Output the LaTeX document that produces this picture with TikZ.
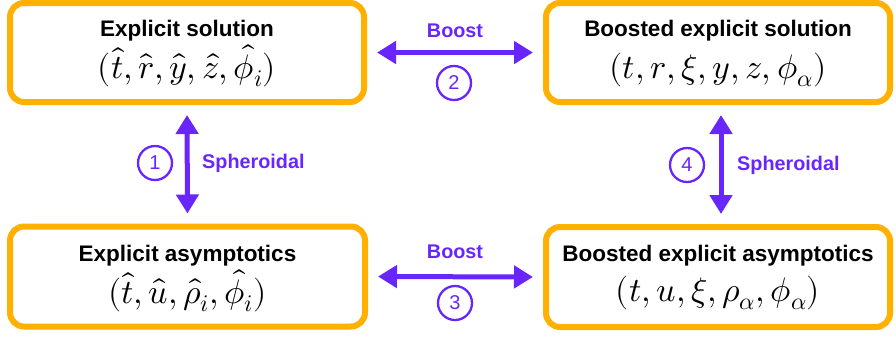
\documentclass[tikz,border=0pt]{standalone}
\usepackage{fontspec}
\usepackage{unicode-math}
\setmainfont{Liberation Sans}
\setmathfont{Latin Modern Math}
\usetikzlibrary{arrows.meta}
\definecolor{boxorange}{RGB}{255,176,0}
\definecolor{arrpurple}{RGB}{104,38,252}
\tikzset{
  bigbox/.style={draw=boxorange, line width=6pt, rounded corners=14pt, fill=white, inner sep=0pt},
  title/.style={anchor=base, font=\fontsize{22.5}{26}\selectfont\bfseries, text=black, inner sep=0pt},
  coords/.style={anchor=base, font=\fontsize{34}{40}\selectfont, inner sep=0pt},
  arr/.style={draw=arrpurple, line width=5pt, {Triangle[length=19pt,width=22pt]}-{Triangle[length=19pt,width=22pt]}, shorten <=10pt, shorten >=10pt},
  lbl/.style={font=\fontsize{19.8}{22}\selectfont\bfseries, text=arrpurple, inner sep=0pt},
  num/.style={circle, draw=arrpurple, line width=2.3pt, minimum size=34pt, inner sep=0pt, text=arrpurple, font=\fontsize{20}{22}\selectfont}
}
\begin{document}
\begin{tikzpicture}[x=1pt,y=-1pt]
\useasboundingbox (0,0) rectangle (896,338);
% boxes
\node[bigbox, minimum width=354pt, minimum height=99pt] (tl) at (187,52.5) {};
\node[bigbox, minimum width=344pt, minimum height=99pt] (tr) at (718,52.5) {};
\node[bigbox, minimum width=355pt, minimum height=100pt] (bl) at (187.5,276.5) {};
\node[bigbox, minimum width=344pt, minimum height=100pt] (br) at (718,277) {};
% texts
\node[title] (tlt) at (187,36) {Explicit solution};
\node[coords] (tlm) at (187,78) {$(\hat{t},\hat{r},\hat{y},\hat{z},\hat{\phi}_i)$};
\node[title] (trt) at (718,36) {Boosted explicit solution};
\node[coords] (trm) at (718,78) {$(t,r,\xi,y,z,\phi_\alpha)$};
\node[title] (blt) at (187.5,261) {Explicit asymptotics};
\node[coords] (blm) at (187.5,303) {$(\hat{t},\hat{u},\hat{\rho}_i,\hat{\phi}_i)$};
\node[title] (brt) at (718,261) {Boosted explicit asymptotics};
\node[coords] (brm) at (718,301) {$(t,u,\xi,\rho_\alpha,\phi_\alpha)$};
% arrows
\draw[arr] (tl.east) -- (tr.west);
\draw[arr] (bl.east) -- (br.west);
\draw[arr] (tl.south) -- (bl.north);
\draw[arr] ([xshift=3pt]tr.south) -- ([xshift=3pt]br.north);
% labels
\node[lbl] (b1) at (455,31) {Boost};
\node[num] (n2) at (454,83) {2};
\node[lbl] (b2) at (455,252) {Boost};
\node[num] (n3) at (455,303) {3};
\node[num] (n1) at (155,163) {1};
\node[lbl, anchor=west] (s1) at (202,163) {Spheroidal};
\node[num] (n4) at (687,165) {4};
\node[lbl, anchor=west] (s2) at (737,165) {Spheroidal};
\end{tikzpicture}
\end{document}
